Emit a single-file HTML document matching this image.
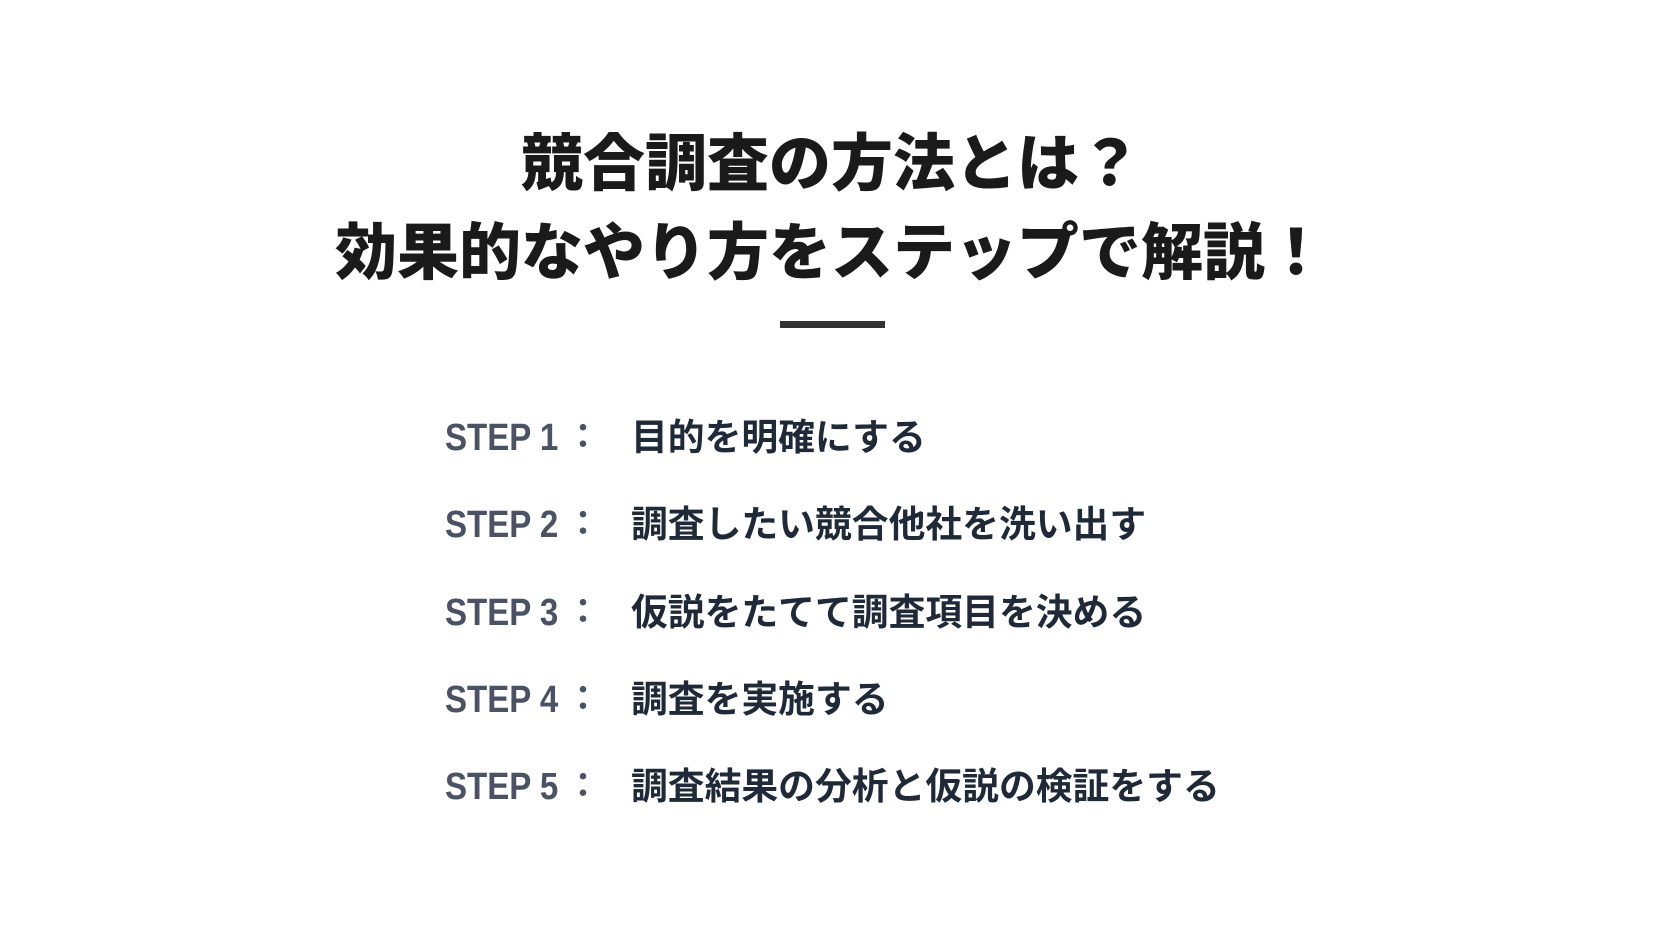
<!DOCTYPE html>
<html><head><meta charset="utf-8"><style>
body{margin:0;width:1674px;height:932px;background:#fff;overflow:hidden;position:relative;font-family:"Liberation Sans","Noto Sans CJK JP",sans-serif;}
.t{position:absolute;left:-6px;width:1674px;text-align:center;font-weight:900;font-size:62px;color:#1a1a1a;line-height:1;white-space:nowrap;}
.bar{position:absolute;left:780px;top:321px;width:105px;height:7px;background:#333;}
.s{position:absolute;left:445px;font-weight:bold;font-size:38px;color:#4a5263;line-height:1;white-space:nowrap;transform:scaleX(0.87);transform-origin:0 0;}
.c{position:absolute;left:566px;font-weight:bold;font-size:34px;color:#4a5263;line-height:1;}
.d{position:absolute;left:631px;font-weight:bold;font-size:36.8px;color:#1f2937;line-height:1;white-space:nowrap;}
</style></head><body>
<div class="t" style="top:134px">競合調査の方法とは？</div>
<div class="t" style="top:223px">効果的なやり方をステップで解説！</div>
<div class="bar"></div>
<div class="s" style="top:419px">STEP 1</div><div class="c" style="top:420px">：</div><div class="d" style="top:420px">目的を明確にする</div>
<div class="s" style="top:506px">STEP 2</div><div class="c" style="top:507px">：</div><div class="d" style="top:507px">調査したい競合他社を洗い出す</div>
<div class="s" style="top:594px">STEP 3</div><div class="c" style="top:595px">：</div><div class="d" style="top:595px">仮説をたてて調査項目を決める</div>
<div class="s" style="top:681px">STEP 4</div><div class="c" style="top:682px">：</div><div class="d" style="top:682px">調査を実施する</div>
<div class="s" style="top:768px">STEP 5</div><div class="c" style="top:769px">：</div><div class="d" style="top:769px">調査結果の分析と仮説の検証をする</div>
</body></html>
